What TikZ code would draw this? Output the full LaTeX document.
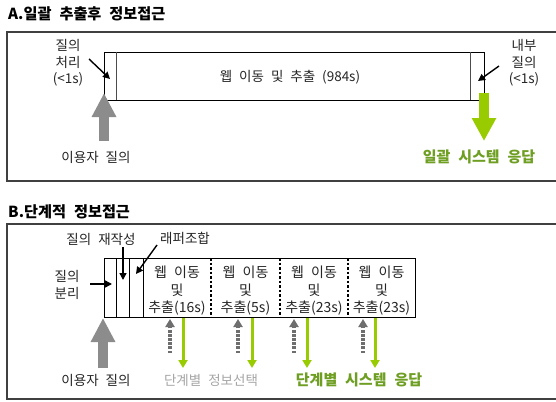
\documentclass[tikz,border=0pt]{standalone}
\usepackage{fontspec}
\setmainfont{Noto Sans CJK KR}[WordSpace=2.3]
\usetikzlibrary{arrows.meta}
\definecolor{arrgreen}{HTML}{99CC00}
\definecolor{txtgreen}{HTML}{6E9E22}
\definecolor{arrgray}{HTML}{8C8C8C}
\definecolor{dotgray}{HTML}{6E6E6E}
\definecolor{softgray}{HTML}{A6A6A6}
\definecolor{framegray}{HTML}{404040}
\begin{document}
\begin{tikzpicture}[x=1pt,y=-1pt,
  lbl/.style={font=\fontsize{13.5}{16.5}\selectfont, align=center, inner sep=0pt, text=black!85},
  seglbl/.style={font=\fontsize{14}{17.5}\selectfont, align=center, inner sep=0pt, text=black!85},
  ttl/.style={font=\bfseries\fontsize{15.2}{18}\selectfont, anchor=west, inner sep=0pt},
  grn/.style={font=\bfseries\fontsize{15}{17}\selectfont, inner sep=0pt, text=txtgreen},
  frm/.style={draw=framegray, line width=1.2pt},
  boxx/.style={draw=black, line width=0.9pt, minimum width=#1, inner sep=0pt, anchor=north west},
  ptr/.style={draw=black, line width=1.4pt, -{Triangle[length=7pt,width=7pt]}},
  bigup/.style={draw=arrgray, line width=10pt, -{Triangle[length=24pt,width=23pt]}},
  bigdown/.style={draw=arrgreen, line width=10pt, -{Triangle[length=23pt,width=23pt]}},
  gdown/.style={draw=arrgreen, line width=3pt, -{Triangle[length=8pt,width=9pt]}},
  dup/.style={draw=dotgray, line width=3.5pt, dash pattern=on 2.5pt off 1.6pt, -{Triangle[length=8pt,width=9pt]}},
]
\useasboundingbox (0,0) rectangle (556,401);
\fill[white] (0,0) rectangle (556,401);

% ---------------- Section A ----------------
\node[ttl] (tA) at (8,14) {A.일괄 추출후 정보접근};
\draw[frm] (7,32) rectangle (560,181);

\node[boxx=380pt, minimum height=48pt] (boxA) at (104,52) {};
\draw[draw=black!70, line width=0.9pt] (116,52) -- (116,100);
\draw[draw=black!70, line width=0.9pt] (470,52) -- (470,100);
\node[lbl] (mainA) at (290,77) {웹 이동 및 추출 (984s)};

\node[lbl] (qpA) at (68,63) {질의\\처리\\(<1s)};
\coordinate (qpAs) at (89,59);
\coordinate (qpAe) at (110,79);
\draw[ptr] (qpAs) -- (qpAe);

\node[lbl] (iqA) at (524,63) {내부\\질의\\(<1s)};
\coordinate (iqAs) at (499,66);
\coordinate (iqAe) at (478,81);
\draw[ptr] (iqAs) -- (iqAe);

\coordinate (upAs) at (104,141);
\coordinate (upAe) at (104,93);
\draw[bigup] (upAs) -- (upAe);
\node[lbl] (userA) at (96,157) {이용자 질의};

\coordinate (dnAs) at (484,93);
\coordinate (dnAe) at (484,141);
\draw[bigdown] (dnAs) -- (dnAe);
\node[grn] (respA) at (479,157) {일괄 시스템 응답};

% ---------------- Section B ----------------
\node[ttl] (tB) at (8,212) {B.단계적 정보접근};
\draw[frm] (7,224) rectangle (560,399);

\node[boxx=311pt, minimum height=59pt] (boxB) at (104,258) {};
\foreach \xx in {116,129,143}
  \draw[draw=black, line width=0.9pt] (\xx,258) -- (\xx,317);
\foreach \xx in {211,280,348}
  \draw[draw=black, line width=1.2pt, dash pattern=on 2.5pt off 2pt] (\xx,258) -- (\xx,317);

\node[seglbl] (s1) at (177,291) {웹 이동\\및\\추출(16s)};
\node[seglbl] (s2) at (245.5,291) {웹 이동\\및\\추출(5s)};
\node[seglbl] (s3) at (314,291) {웹 이동\\및\\추출(23s)};
\node[seglbl] (s4) at (381.5,291) {웹 이동\\및\\추출(23s)};

\node[lbl] (splitB) at (67,285) {질의\\분리};
\coordinate (splitBs) at (90,284);
\coordinate (splitBe) at (112,284);
\draw[ptr] (splitBs) -- (splitBe);

\node[lbl] (rewB) at (101,239) {질의 재작성};
\coordinate (rewBs) at (123,247);
\coordinate (rewBe) at (123,280);
\draw[ptr] (rewBs) -- (rewBe);

\node[lbl] (wrapB) at (185,238) {래퍼조합};
\coordinate (wrapBs) at (157,245);
\coordinate (wrapBe) at (136,274);
\draw[ptr] (wrapBs) -- (wrapBe);

\coordinate (upBs) at (103,368);
\coordinate (upBe) at (103,318);
\draw[bigup] (upBs) -- (upBe);
\node[lbl] (userB) at (96,380) {이용자 질의};

\foreach \dx/\gx/\nm in {170/183/a, 238/252/b, 294/307/c, 363/375/d}{
  \coordinate (d\nm s) at (\dx,353);
  \coordinate (d\nm e) at (\dx,319);
  \draw[dup] (d\nm s) -- (d\nm e);
  \coordinate (g\nm s) at (\gx,318);
  \coordinate (g\nm e) at (\gx,368);
  \draw[gdown] (g\nm s) -- (g\nm e);
}

\node[lbl, text=softgray] (selB) at (211,380) {단계별 정보선택};
\node[grn] (respB) at (359,380) {단계별 시스템 응답};
\end{tikzpicture}
\end{document}
